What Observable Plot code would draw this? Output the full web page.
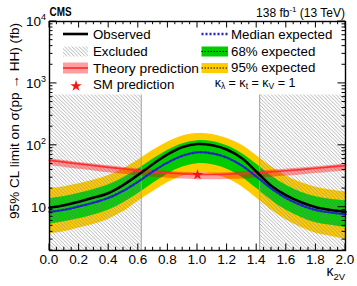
<!DOCTYPE html>
<html><head><meta charset="utf-8">
<script src="https://cdn.jsdelivr.net/npm/d3@7"></script>
<script src="https://cdn.jsdelivr.net/npm/@observablehq/plot@0.6"></script>
<style>
body{margin:0;background:#fff}
#chart svg{font-family:"Liberation Sans",Arial,Helvetica,sans-serif;display:block}
</style>
</head><body>
<svg width="0" height="0" style="position:absolute"><defs>
<pattern id="hatch" patternUnits="userSpaceOnUse" width="3.6" height="3.6">
<path d="M-1,-1 L4.6,4.6 M-1,2.6 L1,4.6 M2.6,-1 L4.6,1" stroke="#8c8c8c" stroke-width="0.65"/>
</pattern></defs></svg>
<div id="chart"></div>
<script>
// ---- data ----
const kappa2V   = [0.0,0.1,0.2,0.3,0.4,0.5,0.6,0.7,0.8,0.9,1.0,1.1,1.2,1.3,1.4,1.5,1.6,1.7,1.8,1.9,2.0];
const observed  = [9.8,10.8,12.3,14.3,17.0,23.0,33.5,50,72,94,105,100,85,62,37,22,15.5,12.0,10.0,9.0,8.4];
const expected  = [8.4,9.1,10.3,11.9,14.2,18.5,26.0,38,53,68,77,74,63,47,31,20,14.0,10.8,9.0,8.2,7.7];
const exp68Lo   = [5.3,5.8,6.5,7.5,9.0,11.8,16.7,24.5,34.5,44.5,50.5,48.5,41,30.5,20,12.8,8.9,6.8,5.6,5.1,4.7];
const exp68Hi   = [13.8,14.9,16.8,19.3,23.0,29.8,41.5,60,83,106,119,115,98,74,49.5,32,22.6,17.5,14.7,13.4,12.6];
const exp95Lo   = [3.7,4.0,4.6,5.3,6.4,8.5,12.5,18,25,32,36,34.5,29,21.5,14,9.0,6.2,4.7,3.8,3.4,3.0];
const exp95Hi   = [20.0,21.5,24.0,27.5,32.5,42,58,83,113,141,155,150,129,100,68,45,32,25,21,19,17.8];
const theory    = [57,53.5,50,47,44,41.5,39.2,37.3,35.8,34.7,34.0,33.8,34.1,34.8,35.8,37.2,38.8,40.6,42.6,44.7,47];
const theoryLo  = [47,44,41,38.5,36,34,32.1,30.6,29.4,28.5,27.9,27.7,28,28.5,29.4,30.5,31.8,33.3,34.9,36.7,38.5];
const theoryHi  = [60.5,56.7,53,49.8,46.6,44,41.5,39.5,37.9,36.8,36,35.8,36.1,36.9,37.9,39.4,41.1,43,45.2,47.4,49.8];
const smPoint   = {k: 1.0, sigma: 33.5};
const excludedLow  = [0.0, 0.62];
const excludedHigh = [1.42, 2.0];
const excludedTop  = 650;
const xTicks = [0.0,0.2,0.4,0.6,0.8,1.0,1.2,1.4,1.6,1.8,2.0];
const yTicks = [10,100,1000,10000];
const yTickExp = ["","2","3","4"];

const rows = kappa2V.map((k,i)=>({k, obs:observed[i], med:expected[i], g1:exp68Lo[i], g2:exp68Hi[i],
  y1:exp95Lo[i], y2:exp95Hi[i], th:theory[i], thLo:theoryLo[i], thHi:theoryHi[i]}));
const excl = [{x1:excludedLow[0],x2:excludedLow[1]},{x1:excludedHigh[0],x2:excludedHigh[1]}];
const curve = "catmull-rom";

const plot = Plot.plot({
  width:357, height:286, marginLeft:49, marginRight:12, marginTop:21, marginBottom:36,
  x:{domain:[0,2], axis:null},
  y:{type:"log", domain:[2,10000], axis:null},
  marks:[
    Plot.areaY(rows,{x:"k", y1:"y1", y2:"y2", fill:"#ffcc00", curve}),
    Plot.areaY(rows,{x:"k", y1:"g1", y2:"g2", fill:"#00cc00", curve}),
    Plot.rect(excl,{x1:"x1", x2:"x2", y1:2, y2:excludedTop, fill:"url(#hatch)"}),
    Plot.ruleX([excludedLow[1], excludedHigh[0]],{y1:2, y2:excludedTop, stroke:"#a0a0a0", strokeWidth:1}),
    Plot.areaY(rows,{x:"k", y1:"thLo", y2:"thHi", fill:"#ff0000", fillOpacity:0.38, curve}),
    Plot.lineY(rows,{x:"k", y:"th", stroke:"#ff3030", strokeWidth:1.7, curve}),
    Plot.lineY(rows,{x:"k", y:"obs", stroke:"#000", strokeWidth:2.6, curve}),
    Plot.lineY(rows,{x:"k", y:"med", stroke:"#2222c8", strokeWidth:2.3, strokeDasharray:"2,2", curve}),
    Plot.dot([smPoint],{x:"k", y:"sigma", symbol:"star", r:3.4, fill:"#ff1010", stroke:"none"}),
    Plot.frame({stroke:"#000", strokeWidth:1.4})
  ]
});
document.getElementById("chart").appendChild(plot);

const sx = plot.scale("x"), sy = plot.scale("y");
const svg = d3.select(plot);
const X0 = sx.apply(0), X1 = sx.apply(2), Y0 = sy.apply(2), Y1 = sy.apply(10000);
const tg = svg.append("g").attr("stroke","#000").attr("stroke-width",1);
// x ticks (inside, bottom and top)
d3.range(0, 2.0001, 0.05).forEach(v=>{
  const major = Math.abs(v/0.2 - Math.round(v/0.2))<1e-6;
  const L = major ? 6.5 : 3.2, px = sx.apply(v);
  tg.append("line").attr("x1",px).attr("x2",px).attr("y1",Y0).attr("y2",Y0-L);
  tg.append("line").attr("x1",px).attr("x2",px).attr("y1",Y1).attr("y2",Y1+L);
});
// y ticks (inside, left and right)
const yMinor = [];
[1,10,100,1000].forEach(d=>{for(let k=2;k<=9;k++){const v=k*d; if(v>=2 && v<10000) yMinor.push(v);}});
yMinor.forEach(v=>{const py=sy.apply(v);
  tg.append("line").attr("x1",X0).attr("x2",X0+3.5).attr("y1",py).attr("y2",py);
  tg.append("line").attr("x1",X1).attr("x2",X1-3.5).attr("y1",py).attr("y2",py);});
yTicks.forEach(v=>{const py=sy.apply(v);
  tg.append("line").attr("x1",X0).attr("x2",X0+7.5).attr("y1",py).attr("y2",py);
  tg.append("line").attr("x1",X1).attr("x2",X1-7.5).attr("y1",py).attr("y2",py);});

const txt = svg.append("g").attr("fill","#000").attr("text-anchor","start");
// x tick labels
xTicks.forEach(v=>{
  txt.append("text").attr("x",sx.apply(v)).attr("y",263.5).attr("text-anchor","middle")
    .attr("font-size",13.5).text(d3.format(".1f")(v));
});
// y tick labels
yTicks.forEach((v,i)=>{
  const t = txt.append("text").attr("x",46).attr("y",sy.apply(v)+4.8).attr("text-anchor","end").attr("font-size",13.5);
  t.append("tspan").text("10");
  if (yTickExp[i]) t.append("tspan").attr("font-size",9).attr("dy",-6).text(yTickExp[i]);
});
// axis titles
txt.append("text").attr("transform","translate(18.5,121) rotate(-90)").attr("text-anchor","middle")
  .attr("font-size",13.6).text("95% CL limit on σ(pp → HH) (fb)");
const xl = txt.append("text").attr("x",345).attr("y",276).attr("text-anchor","end").attr("font-size",14);
xl.append("tspan").text("κ");
xl.append("tspan").attr("font-size",9.5).attr("dy",4).text("2V");
// CMS + lumi
txt.append("text").attr("x",49.5).attr("y",15.7).attr("font-size",13).attr("font-weight","bold")
  .attr("text-anchor","start").attr("textLength",22).attr("lengthAdjust","spacingAndGlyphs").text("CMS");
const lumi = txt.append("text").attr("x",345).attr("y",16.5).attr("text-anchor","end").attr("font-size",12);
lumi.append("tspan").text("138 fb");
lumi.append("tspan").attr("font-size",8).attr("dy",-4.5).text("-1");
lumi.append("tspan").attr("dy",4.5).text(" (13 TeV)");

// legend
const lg = svg.append("g").attr("font-size",13.3).attr("text-anchor","start");
// left column
lg.append("line").attr("x1",63).attr("x2",88).attr("y1",34).attr("y2",34).attr("stroke","#000").attr("stroke-width",2.6);
lg.append("text").attr("x",93).attr("y",38.8).text("Observed");
lg.append("rect").attr("x",63).attr("y",46.5).attr("width",25).attr("height",10).attr("fill","url(#hatch)");
lg.append("text").attr("x",93).attr("y",55.8).text("Excluded");
lg.append("rect").attr("x",63).attr("y",62.5).attr("width",25).attr("height",11).attr("fill","#ff0000").attr("fill-opacity",0.38);
lg.append("line").attr("x1",63).attr("x2",88).attr("y1",68).attr("y2",68).attr("stroke","#ff3030").attr("stroke-width",1.7);
lg.append("text").attr("x",93).attr("y",72.6).attr("textLength",106).attr("lengthAdjust","spacingAndGlyphs").text("Theory prediction");
lg.append("path").attr("transform","translate(76,86)").attr("d",d3.symbol(d3.symbolStar,40)()).attr("fill","#ff1010");
lg.append("text").attr("x",93).attr("y",89.4).text("SM prediction");
// right column
lg.append("line").attr("x1",201.5).attr("x2",228).attr("y1",34).attr("y2",34).attr("stroke","#2222c8").attr("stroke-width",2.3).attr("stroke-dasharray","2,2");
lg.append("text").attr("x",231).attr("y",38.8).text("Median expected");
lg.append("rect").attr("x",201.5).attr("y",46.5).attr("width",26.5).attr("height",10).attr("fill","#00cc00");
lg.append("line").attr("x1",201.5).attr("x2",228).attr("y1",51.5).attr("y2",51.5).attr("stroke","#000").attr("stroke-width",1.2).attr("stroke-dasharray","1.5,1.5");
lg.append("text").attr("x",231).attr("y",55.8).text("68% expected");
lg.append("rect").attr("x",201.5).attr("y",63).attr("width",26.5).attr("height",10).attr("fill","#ffcc00");
lg.append("line").attr("x1",201.5).attr("x2",228).attr("y1",68).attr("y2",68).attr("stroke","#000").attr("stroke-width",1.2).attr("stroke-dasharray","1.5,1.5");
lg.append("text").attr("x",231).attr("y",72.3).text("95% expected");
const kt = lg.append("text").attr("x",255).attr("y",86.5).attr("text-anchor","middle").attr("font-size",12.5);
kt.append("tspan").text("κ");
kt.append("tspan").attr("font-size",8.5).attr("dy",2.5).text("λ");
kt.append("tspan").attr("dy",-2.5).text(" = κ");
kt.append("tspan").attr("font-size",8.5).attr("dy",2.5).text("t");
kt.append("tspan").attr("dy",-2.5).text(" = κ");
kt.append("tspan").attr("font-size",8.5).attr("dy",2.5).text("V");
kt.append("tspan").attr("dy",-2.5).text(" = 1");
</script>
</body></html>
